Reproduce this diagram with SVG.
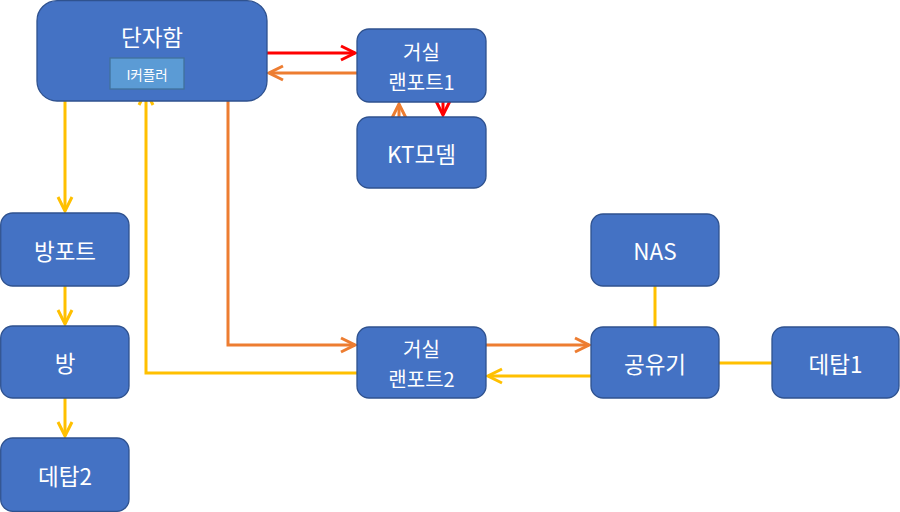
<svg xmlns="http://www.w3.org/2000/svg" width="900" height="512" viewBox="0 0 900 512">
<defs>
<style>
.node{fill:#4472C4;stroke:#2F528F;stroke-width:1.3}
.sub{fill:#5B9BD5;stroke:#41719C;stroke-width:1.3}
.t{fill:#fff;font-family:"Noto Sans CJK KR","Noto Sans",sans-serif;font-size:22.5px;text-anchor:middle;dominant-baseline:central}
.t2{fill:#fff;font-family:"Noto Sans CJK KR","Noto Sans",sans-serif;font-size:20px;text-anchor:middle;dominant-baseline:central}
.ts{fill:#fff;font-family:"Noto Sans CJK KR","Noto Sans",sans-serif;font-size:13.5px;text-anchor:middle;dominant-baseline:central}
.c{fill:none;stroke-width:3}
.r{stroke:#FF0000}
.o{stroke:#ED7D31}
.y{stroke:#FFC000}
</style>
<marker id="ar" markerUnits="userSpaceOnUse" viewBox="-16 -9 18 18" markerWidth="18" markerHeight="18" refX="0" refY="0" orient="auto"><path d="M-14,-7 L0,0 L-14,7" fill="none" stroke="#FF0000" stroke-width="3"/></marker>
<marker id="ao" markerUnits="userSpaceOnUse" viewBox="-16 -9 18 18" markerWidth="18" markerHeight="18" refX="0" refY="0" orient="auto"><path d="M-14,-7 L0,0 L-14,7" fill="none" stroke="#ED7D31" stroke-width="3"/></marker>
<marker id="ay" markerUnits="userSpaceOnUse" viewBox="-16 -9 18 18" markerWidth="18" markerHeight="18" refX="0" refY="0" orient="auto"><path d="M-14,-7 L0,0 L-14,7" fill="none" stroke="#FFC000" stroke-width="3"/></marker>
</defs>
<g id="connectors">
<path class="c r" d="M267,53 H355" marker-end="url(#ar)"/>
<path class="c o" d="M357,73 H269" marker-end="url(#ao)"/>
<path class="c o" d="M399,117 V104" marker-end="url(#ao)"/>
<path class="c r" d="M443,102 V115" marker-end="url(#ar)"/>
<path class="c y" d="M110,75 H65 V211" marker-end="url(#ay)"/>
<path class="c y" d="M65,286 V324" marker-end="url(#ay)"/>
<path class="c y" d="M65,398 V436" marker-end="url(#ay)"/>
<path class="c o" d="M228,101 V345 H355" marker-end="url(#ao)"/>
<path class="c y" d="M357,373 H146 V91" marker-end="url(#ay)"/>
<path class="c o" d="M486,345 H589" marker-end="url(#ao)"/>
<path class="c y" d="M591,376 H488" marker-end="url(#ay)"/>
<path class="c y" d="M655,286 V327"/>
<path class="c y" d="M719,363 H772"/>
</g>
<g id="danjaham">
<rect class="node" x="37" y="0.7" width="230" height="100.3" rx="20"/>
<text class="t" x="152" y="36">단자함</text>
</g>
<g id="icoupler">
<rect class="sub" x="110" y="58" width="74" height="31"/>
<text class="ts" x="147" y="73.5">I커플러</text>
</g>
<g id="lanport1">
<rect class="node" x="357" y="29" width="129" height="73" rx="12"/>
<text class="t2" x="421.5" y="51.5">거실<tspan x="421.5" dy="29.5">랜포트1</tspan></text>
</g>
<g id="ktmodem">
<rect class="node" x="357" y="117" width="129" height="71" rx="12"/>
<text class="t" x="421.5" y="152.5">KT모뎀</text>
</g>
<g id="bangport">
<rect class="node" x="0.7" y="213" width="128.3" height="73" rx="12"/>
<text class="t" x="65" y="249.5">방포트</text>
</g>
<g id="bang">
<rect class="node" x="0.7" y="326" width="128.3" height="72" rx="12"/>
<text class="t" x="65" y="362">방</text>
</g>
<g id="desktop2">
<rect class="node" x="0.7" y="438" width="128.3" height="73.3" rx="12"/>
<text class="t" x="65" y="474.5">데탑2</text>
</g>
<g id="lanport2">
<rect class="node" x="357" y="327" width="129" height="71" rx="12"/>
<text class="t2" x="421.5" y="348">거실<tspan x="421.5" dy="29.5">랜포트2</tspan></text>
</g>
<g id="nas">
<rect class="node" x="591" y="214" width="128" height="72" rx="12"/>
<text class="t" x="655" y="250">NAS</text>
</g>
<g id="router">
<rect class="node" x="591" y="327" width="128" height="71" rx="12"/>
<text class="t" x="655" y="362.5">공유기</text>
</g>
<g id="desktop1">
<rect class="node" x="772" y="327" width="127" height="71" rx="12"/>
<text class="t" x="835.5" y="362.5">데탑1</text>
</g>
</svg>
